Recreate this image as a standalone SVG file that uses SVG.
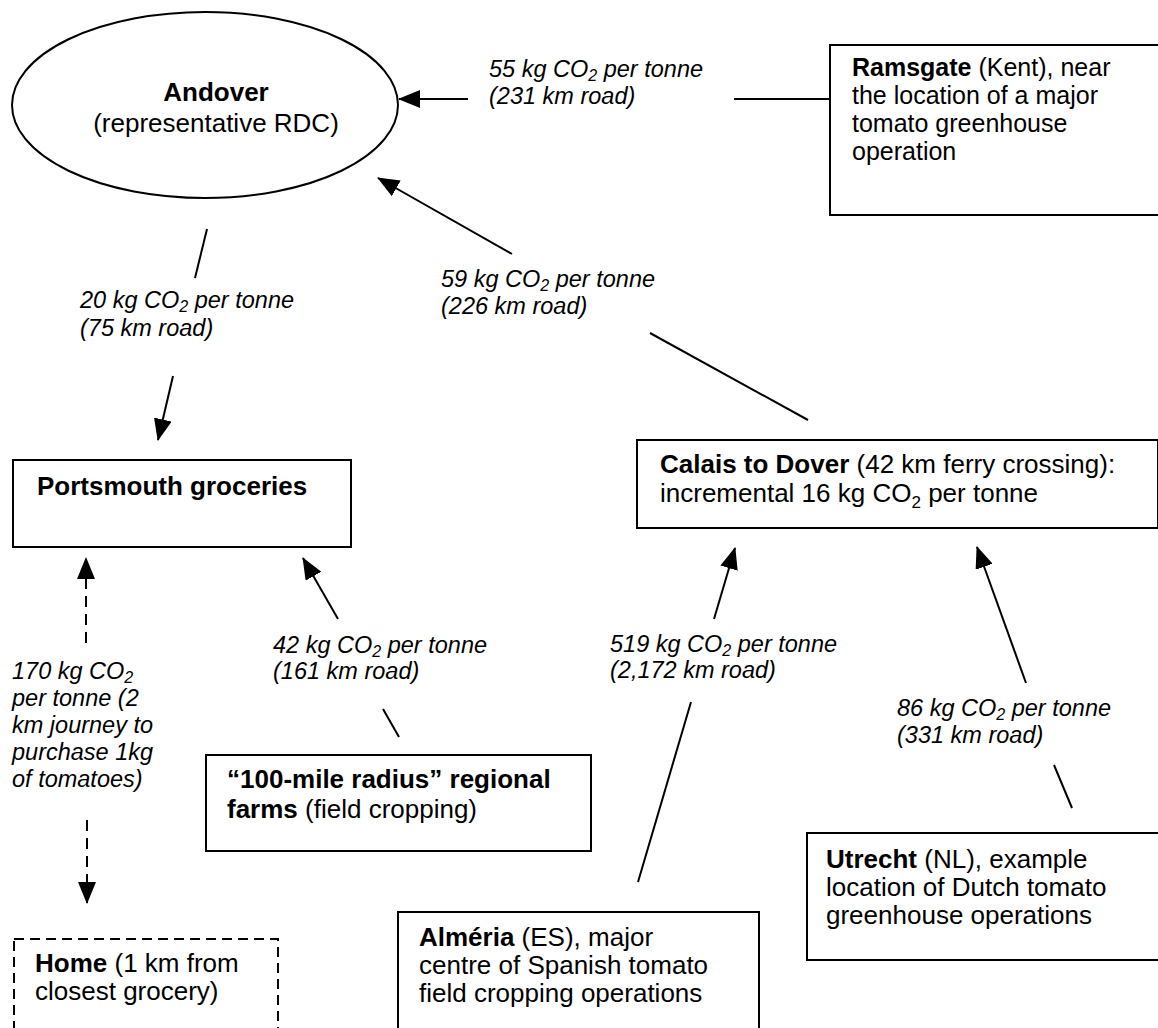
<svg xmlns="http://www.w3.org/2000/svg" width="1158" height="1028" viewBox="0 0 1158 1028">
<style>
  .box{fill:#fff;stroke:#000;stroke-width:2}
  .dbox{fill:#fff;stroke:#000;stroke-width:2;stroke-dasharray:10 6}
  .t{font-family:"Liberation Sans",Arial,sans-serif;font-size:26px;fill:#000}
  .rt{font-family:"Liberation Sans",Arial,sans-serif;font-size:25px;fill:#000}
  .b{font-weight:bold}
  .lbl{font-family:"Liberation Sans",Arial,sans-serif;font-size:23.5px;font-style:italic;fill:#000}
  .c{fill:none;stroke:#000;stroke-width:2}
  .dash{stroke-dasharray:11 7}
</style>
<defs>
  <marker id="ah" markerWidth="22" markerHeight="18" refX="21" refY="9" orient="auto" markerUnits="userSpaceOnUse">
    <path d="M0,0 L22,9 L0,18 z" fill="#000"/>
  </marker>
</defs>
<rect width="1158" height="1028" fill="#fff"/>

<g id="andover">
  <ellipse cx="205" cy="105" rx="193" ry="93" class="box"/>
  <text class="t b" x="216" y="101" text-anchor="middle">Andover</text>
  <text class="t" x="216" y="132" text-anchor="middle">(representative RDC)</text>
</g>

<g id="ramsgate">
  <rect x="830" y="45" width="340" height="170" class="box"/>
  <text class="rt" x="852" y="76"><tspan class="b">Ramsgate</tspan> (Kent), near</text>
  <text class="rt" x="852" y="104">the location of a major</text>
  <text class="rt" x="852" y="132">tomato greenhouse</text>
  <text class="rt" x="852" y="160">operation</text>
</g>

<g id="portsmouth">
  <rect x="13" y="460" width="338" height="87" class="box"/>
  <text class="t b" x="37" y="495">Portsmouth groceries</text>
</g>

<g id="calais">
  <rect x="637" y="440" width="521" height="88" class="box"/>
  <text class="t" x="660" y="473"> <tspan class="b">Calais to Dover</tspan> (42 km ferry crossing):</text>
  <text class="t" x="660" y="502">incremental 16 kg CO<tspan font-size="17" dy="6">2</tspan><tspan dy="-6"> per tonne</tspan></text>
</g>

<g id="farms">
  <rect x="206" y="755" width="385" height="96" class="box"/>
  <text class="t b" x="227" y="788">“100-mile radius” regional</text>
  <text class="t" x="227" y="818"><tspan class="b">farms</tspan> (field cropping)</text>
</g>

<g id="utrecht">
  <rect x="807" y="833" width="360" height="127" class="box"/>
  <text class="t" x="826" y="868"><tspan class="b">Utrecht</tspan> (NL), example</text>
  <text class="t" x="826" y="896">location of Dutch tomato</text>
  <text class="t" x="826" y="924">greenhouse operations</text>
</g>

<g id="almeria">
  <rect x="398" y="912" width="361" height="130" class="box"/>
  <text class="t" x="419" y="946"><tspan class="b">Alméria</tspan> (ES), major</text>
  <text class="t" x="419" y="974">centre of Spanish tomato</text>
  <text class="t" x="419" y="1002">field cropping operations</text>
</g>

<g id="home">
  <rect x="14" y="939" width="264" height="110" class="dbox"/>
  <text class="t" x="35" y="972"><tspan class="b">Home</tspan> (1 km from</text>
  <text class="t" x="35" y="1000">closest grocery)</text>
</g>

<g id="connectors">
  <line x1="830" y1="99" x2="734" y2="99" class="c"/>
  <line x1="468" y1="99" x2="399" y2="99" class="c" marker-end="url(#ah)"/>

  <line x1="808" y1="420" x2="650" y2="333" class="c"/>
  <line x1="512" y1="254" x2="378" y2="178" class="c" marker-end="url(#ah)"/>

  <line x1="207" y1="229" x2="195" y2="278" class="c"/>
  <line x1="173" y1="376" x2="158" y2="440" class="c" marker-end="url(#ah)"/>

  <line x1="86" y1="643" x2="86" y2="558" class="c dash" marker-end="url(#ah)"/>
  <line x1="87" y1="820" x2="87" y2="903" class="c dash" marker-end="url(#ah)"/>

  <line x1="399" y1="737" x2="383" y2="709" class="c"/>
  <line x1="338" y1="619" x2="303" y2="558" class="c" marker-end="url(#ah)"/>

  <line x1="638" y1="882" x2="691" y2="702" class="c"/>
  <line x1="714" y1="619" x2="735" y2="548" class="c" marker-end="url(#ah)"/>

  <line x1="1072" y1="808" x2="1054" y2="765" class="c"/>
  <line x1="1026" y1="683" x2="977" y2="547" class="c" marker-end="url(#ah)"/>
</g>

<g id="labels">
  <text class="lbl" x="489" y="77">55 kg CO<tspan font-size="16" dy="4">2</tspan><tspan dy="-4"> per tonne</tspan></text>
  <text class="lbl" x="489" y="103.5">(231 km road)</text>

  <text class="lbl" x="441" y="287">59 kg CO<tspan font-size="16" dy="4">2</tspan><tspan dy="-4"> per tonne</tspan></text>
  <text class="lbl" x="441" y="313.5">(226 km road)</text>

  <text class="lbl" x="80" y="308">20 kg CO<tspan font-size="16" dy="4">2</tspan><tspan dy="-4"> per tonne</tspan></text>
  <text class="lbl" x="80" y="336">(75 km road)</text>

  <text class="lbl" x="12" y="679">170 kg CO<tspan font-size="16" dy="4">2</tspan></text>
  <text class="lbl" x="12" y="706">per tonne (2</text>
  <text class="lbl" x="12" y="733">km journey to</text>
  <text class="lbl" x="12" y="760">purchase 1kg</text>
  <text class="lbl" x="12" y="787">of tomatoes)</text>

  <text class="lbl" x="273" y="652.5">42 kg CO<tspan font-size="16" dy="4">2</tspan><tspan dy="-4"> per tonne</tspan></text>
  <text class="lbl" x="273" y="679">(161 km road)</text>

  <text class="lbl" x="610" y="651.5">519 kg CO<tspan font-size="16" dy="4">2</tspan><tspan dy="-4"> per tonne</tspan></text>
  <text class="lbl" x="610" y="678">(2,172 km road)</text>

  <text class="lbl" x="897" y="716">86 kg CO<tspan font-size="16" dy="4">2</tspan><tspan dy="-4"> per tonne</tspan></text>
  <text class="lbl" x="897" y="742.5">(331 km road)</text>
</g>
</svg>
